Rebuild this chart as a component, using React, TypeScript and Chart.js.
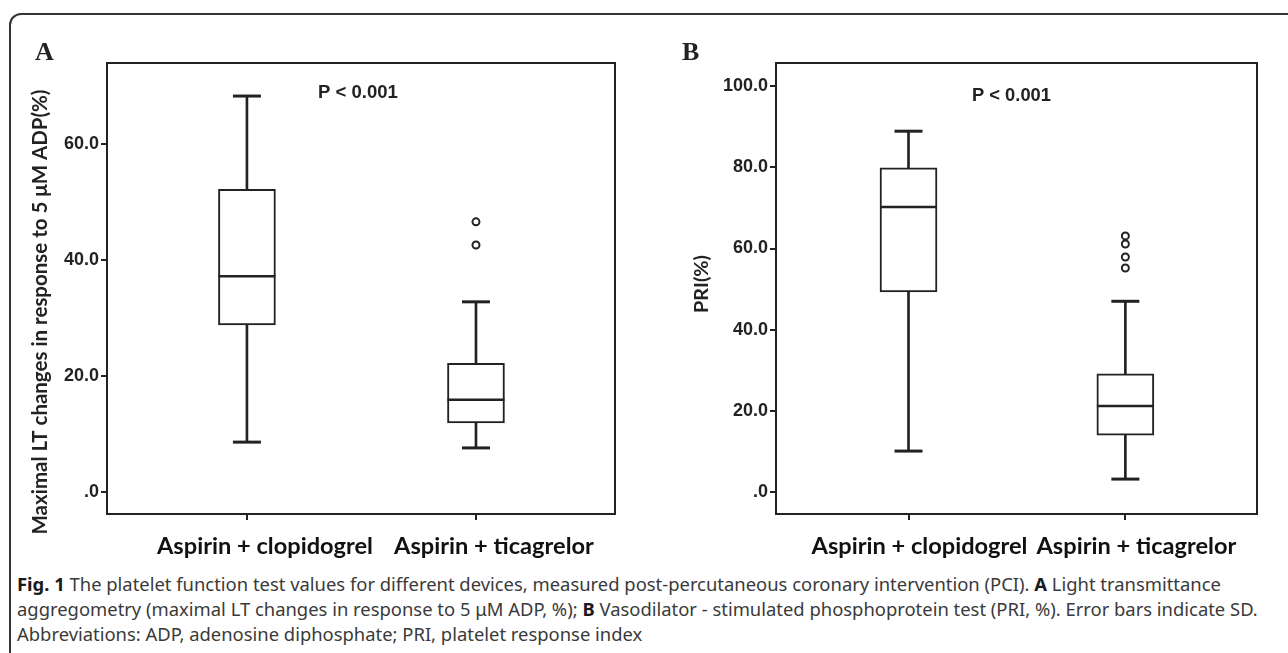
import React, { useEffect, useLayoutEffect, useRef, useState } from "react";
import { Chart, registerables } from "chart.js";

Chart.register(...registerables);

// ---------- data ----------
const categories = ["Aspirin + clopidogrel", "Aspirin + ticagrelor"];
const groupPositions = [1, 2];

// Panel A: maximal LT changes in response to 5 µM ADP (%)
const ltaMin = [8.6, 7.6];
const ltaQ1 = [28.8, 11.9];
const ltaMedian = [37.2, 15.9];
const ltaQ3 = [52.2, 22.2];
const ltaMax = [68.3, 32.8];
const ltaOutliersClopidogrel: number[] = [];
const ltaOutliersTicagrelor = [46.6, 42.6];
const ltaTicks = [0, 20, 40, 60];

// Panel B: PRI (%)
const priMin = [10.1, 3.2];
const priQ1 = [49.3, 14.0];
const priMedian = [70.2, 21.2];
const priQ3 = [79.9, 29.1];
const priMax = [88.9, 47.0];
const priOutliersClopidogrel: number[] = [];
const priOutliersTicagrelor = [63.1, 61.1, 57.9, 55.2];
const priTicks = [0, 20, 40, 60, 80, 100];

const pValueText = "P < 0.001";
const ltaTitle = "Maximal LT changes in response to 5 \u03BCM ADP(%)";
const priTitle = "PRI(%)";

// ---------- styles ----------
const INK = "#222222";
const TICK_FONT = '"Liberation Sans", Arial, sans-serif';
const LABEL_FONT = 'Lato, "Open Sans", sans-serif';
const CAPTION_FONT = '"Noto Sans", "Open Sans", sans-serif';

function fitSize(text: string, weight: string, family: string, target: number): number {
  const c = document.createElement("canvas").getContext("2d") as CanvasRenderingContext2D;
  c.font = `${weight} 100px ${family}`;
  const w = c.measureText(text).width || 1;
  return (100 * target) / w;
}

const panelDecor = {
  id: "panelDecor",
  afterDraw(chart: any, _args: any, opts: any) {
    const { ctx, chartArea: a } = chart;
    ctx.save();
    ctx.strokeStyle = INK;
    ctx.lineWidth = 2;
    ctx.strokeRect(a.left, a.top, a.right - a.left, a.bottom - a.top);

    ctx.fillStyle = INK;
    ctx.textBaseline = "middle";
    ctx.textAlign = "left";
    const pSize = fitSize(opts.pText, "bold", TICK_FONT, opts.pWidth);
    ctx.font = `bold ${pSize}px ${TICK_FONT}`;
    ctx.fillText(opts.pText, opts.pX, opts.pY);

    ctx.textBaseline = "alphabetic";
    ctx.font = 'bold 26px "Liberation Serif", "Times New Roman", serif';
    ctx.fillText(opts.letter, opts.letterX, opts.letterY);

    ctx.translate(opts.titleX, opts.titleY);
    ctx.rotate(-Math.PI / 2);
    ctx.textAlign = "center";
    ctx.textBaseline = "middle";
    const tSize = fitSize(opts.title, "bold", LABEL_FONT, opts.titleLength);
    ctx.font = `bold ${tSize}px ${LABEL_FONT}`;
    ctx.fillText(opts.title, 0, 0);
    ctx.restore();
  },
};

type PanelSpec = {
  min: number[];
  q1: number[];
  median: number[];
  q3: number[];
  max: number[];
  outliers: number[][];
  ticks: number[];
  yMin: number;
  yMax: number;
  width: number;
  height: number;
  axisWidth: number;
  padRight: number;
  padTop: number;
  xAxisHeight: number;
  labelOffset: number;
  decor: any;
};

function buildConfig(p: PanelSpec): any {
  const stems = groupPositions.flatMap((x, i) => [
    { x, y: [p.q3[i], p.max[i]] },
    { x, y: [p.min[i], p.q1[i]] },
  ]);
  const boxes = groupPositions.map((x, i) => ({ x, y: [p.q1[i], p.q3[i]] }));
  const medians = groupPositions.map((x, i) => ({ x, y: p.median[i] }));
  const caps = groupPositions.flatMap((x, i) => [
    { x, y: p.max[i] },
    { x, y: p.min[i] },
  ]);
  const outs = groupPositions.flatMap((x, i) => p.outliers[i].map((y) => ({ x, y })));

  const labelSize = fitSize(categories[0], "bold", LABEL_FONT, 216);

  return {
    type: "scatter",
    data: {
      datasets: [
        {
          type: "bar",
          data: stems,
          barThickness: 2,
          grouped: false,
          backgroundColor: INK,
          borderWidth: 0,
          order: 5,
        },
        {
          type: "bar",
          data: boxes,
          barThickness: 57,
          grouped: false,
          backgroundColor: "#ffffff",
          borderColor: INK,
          borderWidth: 2,
          borderSkipped: false,
          order: 4,
        },
        {
          type: "scatter",
          data: medians,
          pointStyle: "line",
          pointRadius: 28.5,
          borderColor: INK,
          pointBorderWidth: 2.5,
          order: 3,
        },
        {
          type: "scatter",
          data: caps,
          pointStyle: "line",
          pointRadius: 14,
          borderColor: INK,
          pointBorderWidth: 3,
          order: 2,
        },
        {
          type: "scatter",
          data: outs,
          pointStyle: "circle",
          pointRadius: 3.5,
          borderColor: INK,
          backgroundColor: "#ffffff",
          pointBorderWidth: 2,
          order: 1,
        },
      ],
    },
    options: {
      animation: false,
      responsive: false,
      events: [],
      layout: { padding: { top: p.padTop, left: 0, right: p.padRight, bottom: 0 } },
      plugins: {
        legend: { display: false },
        tooltip: { enabled: false },
        panelDecor: p.decor,
      },
      scales: {
        x: {
          type: "linear",
          min: 0.389,
          max: 2.607,
          offset: false,
          afterBuildTicks: (ax: any) => {
            ax.ticks = groupPositions.map((v) => ({ value: v }));
          },
          afterFit: (ax: any) => {
            ax.height = p.xAxisHeight;
          },
          ticks: {
            autoSkip: false,
            maxRotation: 0,
            minRotation: 0,
            padding: 12,
            labelOffset: p.labelOffset,
            color: "#111",
            font: { family: LABEL_FONT, weight: "bold", size: labelSize },
            callback: (v: any) => categories[Math.round(Number(v)) - 1] ?? "",
          },
          grid: {
            display: true,
            offset: false,
            drawOnChartArea: false,
            drawTicks: true,
            tickLength: 6,
            color: INK,
            lineWidth: 2,
          },
          border: { display: false },
        },
        y: {
          type: "linear",
          min: p.yMin,
          max: p.yMax,
          afterBuildTicks: (ax: any) => {
            ax.ticks = p.ticks.map((v) => ({ value: v }));
          },
          afterFit: (ax: any) => {
            ax.width = p.axisWidth;
          },
          ticks: {
            padding: 2,
            color: INK,
            font: { family: TICK_FONT, weight: "bold", size: 18 },
            callback: (v: any) => (Number(v) === 0 ? ".0" : Number(v).toFixed(1)),
          },
          grid: {
            display: true,
            offset: false,
            drawOnChartArea: false,
            drawTicks: true,
            tickLength: 6,
            color: INK,
            lineWidth: 2,
          },
          border: { display: false },
        },
      },
    },
    plugins: [panelDecor],
  };
}

function Panel({ spec, left }: { spec: PanelSpec; left: number }) {
  const ref = useRef<HTMLCanvasElement | null>(null);
  useEffect(() => {
    if (!ref.current) return;
    const chart = new Chart(ref.current, buildConfig(spec));
    return () => chart.destroy();
  }, []);
  return (
    <canvas
      ref={ref}
      width={spec.width}
      height={spec.height}
      style={{ position: "absolute", left, top: 0, width: spec.width, height: spec.height }}
    />
  );
}

const panelA: PanelSpec = {
  min: ltaMin,
  q1: ltaQ1,
  median: ltaMedian,
  q3: ltaQ3,
  max: ltaMax,
  outliers: [ltaOutliersClopidogrel, ltaOutliersTicagrelor],
  ticks: ltaTicks,
  yMin: -3.8,
  yMax: 74,
  width: 650,
  height: 568,
  axisWidth: 107,
  padRight: 35,
  padTop: 63,
  xAxisHeight: 54,
  labelOffset: 18,
  decor: {
    pText: pValueText,
    pX: 318,
    pY: 93,
    pWidth: 80,
    letter: "A",
    letterX: 35,
    letterY: 60,
    title: ltaTitle,
    titleX: 40,
    titleY: 312,
    titleLength: 445,
  },
};

const panelB: PanelSpec = {
  min: priMin,
  q1: priQ1,
  median: priMedian,
  q3: priQ3,
  max: priMax,
  outliers: [priOutliersClopidogrel, priOutliersTicagrelor],
  ticks: priTicks,
  yMin: -5.4,
  yMax: 105.7,
  width: 638,
  height: 568,
  axisWidth: 126,
  padRight: 15,
  padTop: 63,
  xAxisHeight: 54,
  labelOffset: 11,
  decor: {
    pText: pValueText,
    pX: 322,
    pY: 96,
    pWidth: 79,
    letter: "B",
    letterX: 32,
    letterY: 60,
    title: priTitle,
    titleX: 52,
    titleY: 284,
    titleLength: 58,
  },
};

const boldStyle = { fontWeight: 700, color: "#1a1a1a" };

function Caption() {
  const l1 = useRef<HTMLSpanElement | null>(null);
  const l2 = useRef<HTMLSpanElement | null>(null);
  const [size, setSize] = useState(18);
  useLayoutEffect(() => {
    if (!l1.current || !l2.current) return;
    const w1 = l1.current.getBoundingClientRect().width;
    const w2 = l2.current.getBoundingClientRect().width;
    if (w1 > 0 && w2 > 0) {
      const s = 18 * ((1205 / w1 + 1241 / w2) / 2);
      if (Math.abs(s - size) > 0.05) setSize(s);
    }
  }, []);
  return (
    <div
      style={{
        position: "absolute",
        left: 17,
        top: 571,
        fontFamily: CAPTION_FONT,
        fontSize: size,
        lineHeight: "25px",
        color: "#3a3a3a",
        whiteSpace: "nowrap",
      }}
    >
      <span ref={l1}>
        <span style={boldStyle}>Fig. 1</span> The platelet function test values for different devices, measured
        post-percutaneous coronary intervention (PCI). <span style={boldStyle}>A</span> Light transmittance
      </span>
      <br />
      <span ref={l2}>
        aggregometry (maximal LT changes in response to 5 {"\u03BC"}M ADP, %); <span style={boldStyle}>B</span>{" "}
        Vasodilator - stimulated phosphoprotein test (PRI, %). Error bars indicate SD.
      </span>
      <br />
      <span>Abbreviations: ADP, adenosine diphosphate; PRI, platelet response index</span>
    </div>
  );
}

export default function App() {
  return (
    <div
      style={{
        position: "fixed",
        left: 0,
        top: 0,
        width: 1288,
        height: 653,
        overflow: "hidden",
        background: "#ffffff",
      }}
    >
      <div
        style={{
          position: "absolute",
          left: 9,
          top: 13,
          width: 1300,
          height: 700,
          border: "2px solid #333",
          borderRadius: 12,
          boxSizing: "border-box",
        }}
      />
      <Panel spec={panelA} left={0} />
      <Panel spec={panelB} left={650} />
      <Caption />
    </div>
  );
}
